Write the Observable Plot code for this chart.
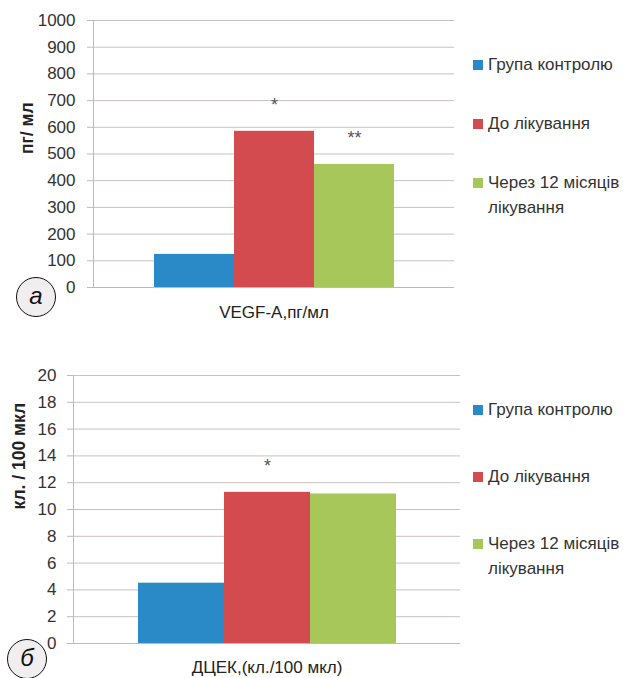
<!DOCTYPE html>
<html><head><meta charset="utf-8">
<script src="https://cdn.jsdelivr.net/npm/d3@7"></script>
<script src="https://cdn.jsdelivr.net/npm/@observablehq/plot@0.6"></script>
<style>
body{margin:0;background:#fff;}
#wrap{position:relative;width:623px;height:678px;overflow:hidden;font-family:"Liberation Sans",Arial,sans-serif;}
.panel{position:absolute;left:0;}
.item{position:absolute;left:473px;white-space:nowrap;font-size:17px;color:#333;line-height:25px;}
.sw{position:absolute;left:0;top:8px;width:10px;height:10px;}
.txt{position:absolute;left:15px;top:0;}
.badge{position:absolute;width:38px;height:38px;border:1.5px solid #111;border-radius:50%;background:#f0eeee;font-style:italic;font-size:24px;text-align:center;line-height:36px;color:#111;font-family:"Liberation Sans",Arial,sans-serif;}
</style></head>
<body><div id="wrap"></div>
<script>
const groups = ["Група контролю", "До лікування", "Через 12 місяців лікування"];
const legendLines = [["Група контролю"], ["До лікування"], ["Через 12 місяців", "лікування"]];
const colors = ["#2a8ac8", "#d34b4f", "#a8c75a"];

const vegfCategory = "VEGF-A,пг/мл";
const vegfLabel = "пг/ мл";
const vegfValues = [124, 585, 461];
const vegfStars = ["", "*", "**"];
const vegfTicks = [0, 100, 200, 300, 400, 500, 600, 700, 800, 900, 1000];

const dcekCategory = "ДЦЕК,(кл./100 мкл)";
const dcekLabel = "кл. / 100 мкл";
const dcekValues = [4.5, 11.28, 11.16];
const dcekStars = ["", "*", ""];
const dcekTicks = [0, 2, 4, 6, 8, 10, 12, 14, 16, 18, 20];

function makePanel(o) {
  const data = groups.map((g, i) => ({group: g, value: o.values[i], star: o.stars[i]}));
  return Plot.plot({
    width: 623, height: o.height,
    marginLeft: o.ml, marginRight: o.mr, marginTop: o.mt, marginBottom: o.mb,
    style: {fontFamily: "'Liberation Sans', Arial, sans-serif", fontSize: "17px", color: "#333", background: "transparent"},
    x: {domain: groups, paddingInner: 0, paddingOuter: 0.75, axis: null},
    y: {domain: [o.ticks[0], o.ticks[o.ticks.length - 1]], axis: null},
    color: {domain: groups, range: colors},
    marks: [
      Plot.gridY(o.ticks.slice(1), {stroke: "#c9c1c1", strokeOpacity: 1, strokeWidth: 1}),
      Plot.axisY(o.ticks, {tickSize: 6, tickPadding: o.tp, stroke: "#bbb", label: null, fontSize: 17, fill: "#333", tickFormat: d => String(d)}),
      Plot.ruleY([0], {stroke: "#bbb"}),
      Plot.frame({anchor: "left", stroke: "#bbb"}),
      Plot.barY(data, {x: "group", y: "value", fill: "group"}),
      Plot.text(data, {x: "group", y: "value", text: "star", dy: -26, fontSize: 18, fill: "#555"}),
      Plot.text([o.category], {frameAnchor: "bottom", lineAnchor: "middle", dy: o.cdy, text: d => d, fontSize: 17, fill: "#222"}),
      Plot.text([o.label], {frameAnchor: "left", rotate: -90, dx: o.ldx, text: d => d, fontSize: 17.5, fontWeight: "bold", fill: "#222"})
    ]
  });
}

const wrap = document.getElementById("wrap");
function addPanel(top, chart) {
  const d = document.createElement("div");
  d.className = "panel"; d.style.top = top + "px";
  d.appendChild(chart); wrap.appendChild(d);
}
addPanel(0, makePanel({height: 330, ml: 93, mr: 169, mt: 20, mb: 43, tp: 12, values: vegfValues, stars: vegfStars, ticks: vegfTicks, category: vegfCategory, label: vegfLabel, cdy: 25, ldx: -66}));
addPanel(350, makePanel({height: 328, ml: 73, mr: 163, mt: 25, mb: 35, tp: 11, values: dcekValues, stars: dcekStars, ticks: dcekTicks, category: dcekCategory, label: dcekLabel, cdy: 24, ldx: -54}));

function addLegend(ys) {
  legendLines.forEach((lines, i) => {
    const it = document.createElement("div");
    it.className = "item"; it.style.top = (ys[i] - 13) + "px";
    it.innerHTML = `<span class="sw" style="background:${colors[i]}"></span><span class="txt">${lines.join("<br>")}</span>`;
    wrap.appendChild(it);
  });
}
addLegend([65, 124, 183]);
addLegend([410, 477, 544]);

function addBadge(cx, cy, letter) {
  const b = document.createElement("div");
  b.className = "badge"; b.textContent = letter;
  b.style.left = (cx - 20) + "px"; b.style.top = (cy - 20) + "px";
  wrap.appendChild(b);
}
addBadge(36, 297, "а");
addBadge(27, 659, "б");
</script></body></html>
